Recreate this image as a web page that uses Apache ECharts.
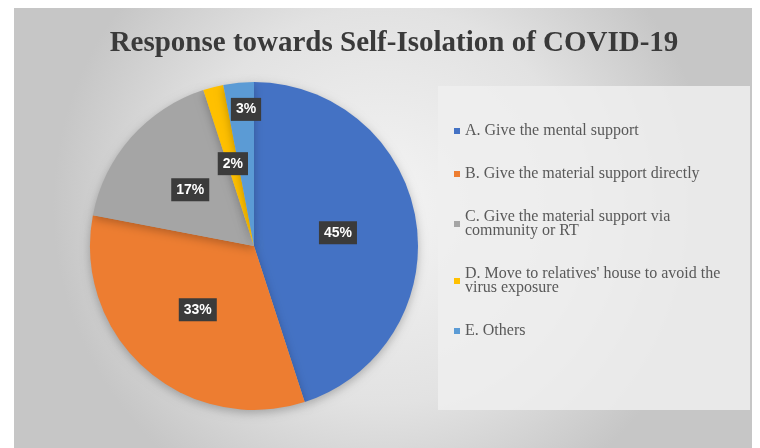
<!DOCTYPE html>
<html><head><meta charset="utf-8">
<script src="https://cdn.jsdelivr.net/npm/echarts@6/dist/echarts.min.js"></script>
<style>html,body{margin:0;padding:0;background:#fff}#c{width:760px;height:448px}</style>
</head><body><div id="c"></div>
<script>
const categories = [
  "A. Give the mental support",
  "B. Give the material support directly",
  "C. Give the material support via community or RT",
  "D. Move to relatives' house to avoid the virus exposure",
  "E. Others"
];
const values = [45, 33, 17, 2, 3];
const colors = ["#4472C4", "#ED7D31", "#A5A5A5", "#FFC000", "#5B9BD5"];
const titleText = "Response towards Self-Isolation of COVID-19";

const chart = echarts.init(document.getElementById('c'));
chart.setOption({
  animation: false,
  backgroundColor: '#ffffff',
  graphic: [
    { type: 'rect', z: -10, shape: { x: 14, y: 8, width: 738, height: 440 },
      style: { fill: new echarts.graphic.RadialGradient(0.5, 0.45, 0.75, [
        { offset: 0, color: '#f4f4f4' }, { offset: 0.6, color: '#e2e2e2' }, { offset: 1, color: '#c6c6c6' }]) } },
    { type: 'rect', z: -5, shape: { x: 438, y: 86, width: 312, height: 324 },
      style: { fill: 'rgba(238,238,238,0.85)' } }
  ],
  color: colors,
  title: {
    text: titleText, left: 389, textAlign: 'center', top: 24,
    textStyle: { fontFamily: 'Liberation Serif', fontWeight: 'bold', fontSize: 29, color: '#3a3a3a' }
  },
  legend: {
    orient: 'vertical', left: 449, top: 118,
    icon: 'rect', itemWidth: 6, itemHeight: 6, itemGap: 27, itemStyle: { borderWidth: 0 },
    textStyle: { fontFamily: 'Liberation Serif', fontSize: 16, color: '#595959', width: 275, overflow: 'break', lineHeight: 14 }
  },
  series: [{
    type: 'pie', center: [254, 246], radius: 164, startAngle: 90, clockwise: true,
    itemStyle: { shadowBlur: 10, shadowColor: 'rgba(0,0,0,0.25)', shadowOffsetY: 3 },
    label: {
      position: 'inside', color: '#ffffff', fontWeight: 'bold',
      fontFamily: 'Liberation Sans', fontSize: 14, backgroundColor: '#3b3b3b', padding: [5, 5, 4, 5],
      formatter: p => Math.round(p.percent) + '%'
    },
    labelLayout: p => p.dataIndex === 4 ? { dy: -52 } : {},
    labelLine: { show: false },
    data: categories.map((n, i) => ({ name: n, value: values[i] }))
  }]
});
</script></body></html>
